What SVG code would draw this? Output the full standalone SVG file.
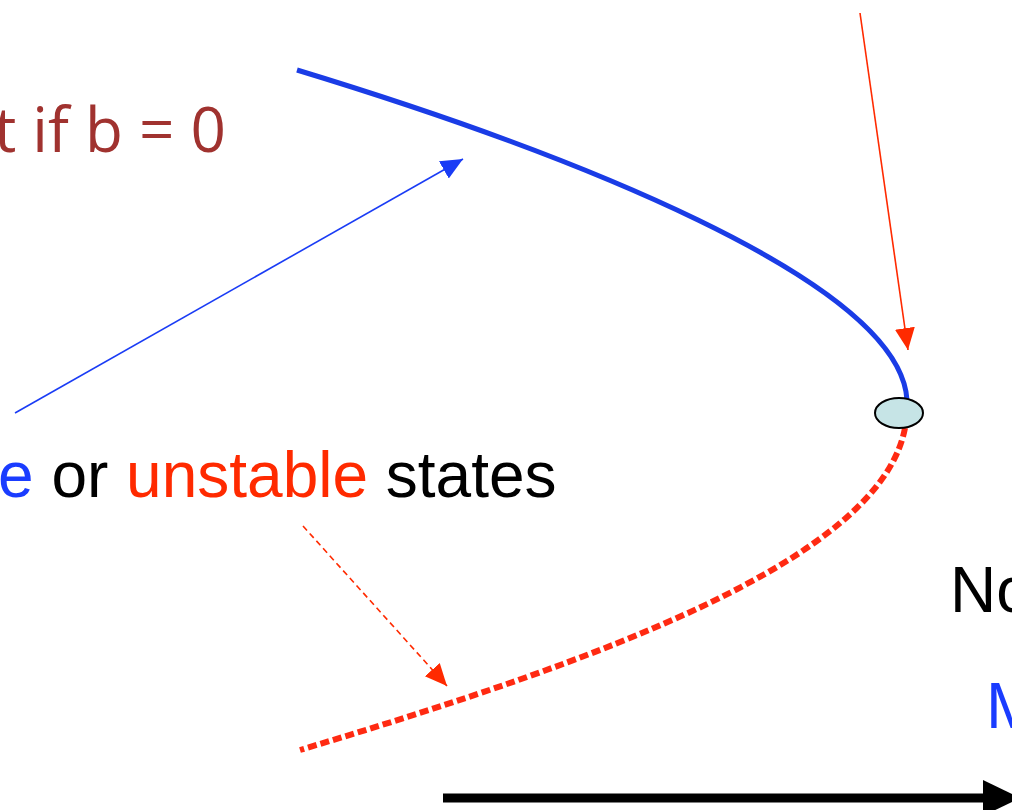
<svg xmlns="http://www.w3.org/2000/svg" width="1012" height="810" viewBox="0 0 1012 810">
<style>
.txt{font-family:"Liberation Sans",Arial,sans-serif;font-size:64px}
.brown{font-family:"Open Sans","Liberation Sans",sans-serif;font-size:62px;fill:#a0322f}
.thin{fill:none;stroke-width:1.6}
</style>
<defs>
<marker id="ahBlue" markerUnits="userSpaceOnUse" markerWidth="24" markerHeight="24" viewBox="0 0 24 24" refX="22" refY="12" orient="auto">
<path d="M0,2 L22,12 L0,22 Z" fill="#1a3cf5"/>
</marker>
<marker id="ahRed" markerUnits="userSpaceOnUse" markerWidth="24" markerHeight="24" viewBox="0 0 24 24" refX="22" refY="12" orient="auto">
<path d="M0,2 L22,12 L0,22 Z" fill="#ff2a00"/>
</marker>
</defs>
<rect width="1012" height="810" fill="#ffffff"/>
<g id="curve">
<path id="stable-branch" d="M297,70 C560,150 900,280 907,400" fill="none" stroke="#1a3ce6" stroke-width="5"/>
<path id="unstable-branch" d="M905,428 C880,560 600,660 300,750" fill="none" stroke="#ff2a12" stroke-width="6" stroke-dasharray="9,4"/>
</g>
<g id="bifurcation-point">
<ellipse cx="899" cy="413" rx="24" ry="15" fill="#c6e4e6" stroke="#000000" stroke-width="2"/>
</g>
<g id="connectors">
<line x1="15" y1="413" x2="463" y2="159" class="thin" stroke="#1a3cf5" marker-end="url(#ahBlue)"/>
<line x1="860" y1="13" x2="908" y2="350" class="thin" stroke="#ff2a00" marker-end="url(#ahRed)"/>
<line x1="303" y1="526" x2="447" y2="686" class="thin" stroke="#ff2a00" stroke-dasharray="6,4" marker-end="url(#ahRed)"/>
<line x1="443" y1="798" x2="985" y2="798" stroke="#000000" stroke-width="9"/>
<polygon points="983,780 983,816 1020,798" fill="#000000"/>
</g>
<g id="labels">
<text class="brown" x="226" y="152" text-anchor="end">t if b = 0</text>
<text class="txt" x="-2" y="497"><tspan fill="#1a3cff">e</tspan><tspan fill="#000000"> or </tspan><tspan fill="#ff2a00">unstable</tspan><tspan fill="#000000"> states</tspan></text>
<text class="txt" x="950" y="612" fill="#000000">No</text>
<text class="txt" x="986" y="728" fill="#1a3cff">M</text>
</g>
</svg>
